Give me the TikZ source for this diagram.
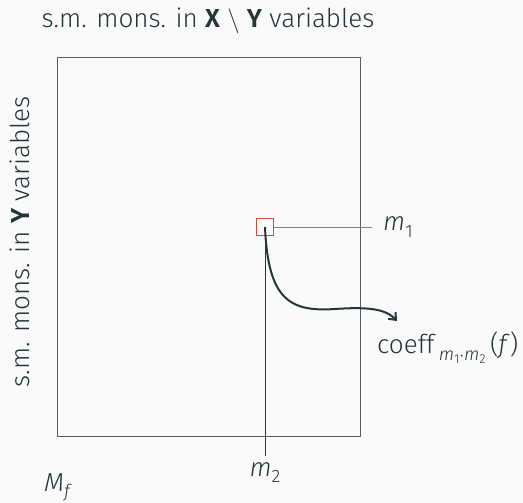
\documentclass[tikz,border=0pt]{standalone}
\usepackage{fontspec}
\setmainfont{Fira Sans Light}[BoldFont=Fira Sans SemiBold,ItalicFont=Fira Sans Light Italic]
\usepackage{xcolor}
\definecolor{figteal}{RGB}{35,55,59}
\definecolor{figframe}{RGB}{80,96,99}
\definecolor{figgray}{RGB}{120,132,134}
\definecolor{figred}{RGB}{214,76,60}
\definecolor{figbg}{RGB}{250,250,250}
\usetikzlibrary{arrows.meta,positioning,calc}
\newcommand{\mvar}[1]{\textit{#1}}
\newcommand{\sub}[1]{\raisebox{-0.45ex}{\fontsize{18}{20}\selectfont #1}}
\newcommand{\subsub}[1]{\raisebox{-0.35ex}{\fontsize{13}{15}\selectfont #1}}

\begin{document}
\begin{tikzpicture}[
  x=1pt,y=-1pt,
  font=\fontsize{26}{31}\selectfont,
  lbl/.style={text=figteal,inner sep=0pt},
  ln/.style={figteal,line width=1pt},
  ar/.style={-{Straight Barb[length=6pt,width=10pt]},figteal,line width=2pt}
]
\fill[figbg] (0,0) rectangle (523,503);
\useasboundingbox (0,0) rectangle (523,503);
\node[draw=figframe,line width=1.3pt,minimum width=303pt,minimum height=379pt,inner sep=0pt,anchor=north west] (mat) at (57,57) {};
\node[draw=figred,line width=1.2pt,minimum size=17pt,inner sep=0pt] (entry) at (265,227) {};
\node[lbl,anchor=west] (m1) at (383,227) {\mvar{m}\sub{1}};
\node[lbl,anchor=north] (m2) at (265,462) {\mvar{m}\sub{2}};
\node[lbl,anchor=north west] (coeff) at (377,332) {coeff\,\sub{\mvar{m}\subsub{1}$\cdot$\mvar{m}\subsub{2}}\,(\mvar{f})};
\node[lbl] (mf) at (58,487) {\mvar{M}\sub{\mvar{f}}};
\node[lbl] (title) at (208,21) {s.m. mons. in \textbf{X} $\backslash$ \textbf{Y} variables};
\node[lbl,rotate=90] (ylab) at (20,242) {s.m. mons. in \textbf{Y} variables};
\coordinate (tip) at (397,321);
\draw[figgray,line width=1pt] (entry.east) -- ([xshift=-11pt]m1.west);
\draw[ln,shorten >=6pt] (entry.center) -- (m2.north);
\draw[ar] (entry.center) .. controls (268,300) and (290,312) .. (335,309) .. controls (365,307) and (385,308) .. (tip);
\end{tikzpicture}
\end{document}
